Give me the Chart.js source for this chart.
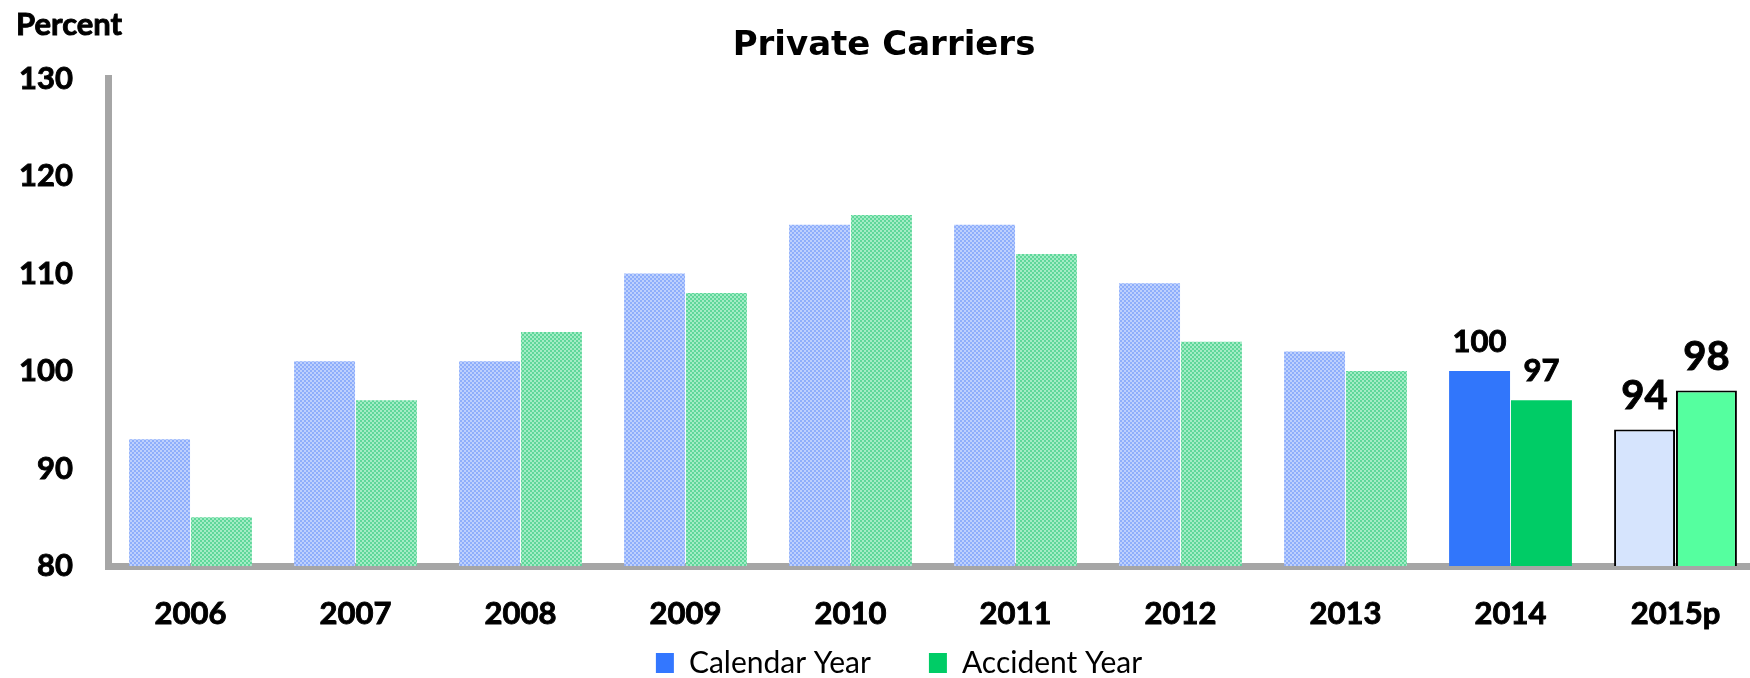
<!DOCTYPE html>
<html>
<head>
<meta charset="utf-8">
<title>Private Carriers</title>
<script src="https://cdn.jsdelivr.net/npm/chart.js@4.4.1/dist/chart.umd.min.js"></script>
<style>
  html, body { margin: 0; padding: 0; background: #fff; overflow: hidden; }
  #wrap { position: absolute; left: 0; top: 0; }
</style>
</head>
<body>
<div id="wrap"><canvas id="ratioChart" width="1758" height="759"></canvas></div>
<script>
// ---- data ----
const years = ['2006', '2007', '2008', '2009', '2010', '2011', '2012', '2013', '2014', '2015p'];
const calendarYear = [93, 101, 101, 110, 115, 115, 109, 102, 100, 94];
const accidentYear = [85, 97, 104, 108, 116, 112, 103, 100, 97, 98];
const seriesNames = ['Calendar Year', 'Accident Year'];
const yMin = 80, yMax = 130, yStep = 10;
const labeledYears = ['2014', '2015p'];

// ---- styling ----
const AXIS_GRAY = '#a6a6a6';
const HEAVY = 'bold';
const STROKE = 0.9;   // a hairline stroke makes the bold labels read heavier
const legendColors = ['#3377ff', '#00cc66'];
const solidColors = ['#3176fb', '#00cc66'];       // 2014
const preliminaryColors = ['#d6e4fd', '#55ff9f'];  // 2015p
const labelStyle = { '2014': { size: 31, gap: 19 }, '2015p': { size: 40, gap: 21 } };

Chart.defaults.font.family = "'Lato', sans-serif";
Chart.defaults.color = '#000';

// dithered fill used for the earlier years
function makeDither(a, b) {
  const tile = document.createElement('canvas');
  tile.width = 4; tile.height = 4;
  const t = tile.getContext('2d');
  t.fillStyle = a; t.fillRect(0, 0, 4, 4);
  t.fillStyle = b; t.fillRect(2, 0, 2, 2); t.fillRect(0, 2, 2, 2);
  return t.createPattern(tile, 'repeat');
}
const ditherBlue = makeDither('#8eaefb', '#bdd0fd');
const ditherGreen = makeDither('#5ed79a', '#a3ecc5');

function barFills(dither, k) {
  return years.map(y => y === '2014' ? solidColors[k] : y === '2015p' ? preliminaryColors[k] : dither);
}
const borderWidths = years.map(y => y === '2015p' ? 2 : 0);

function heavyText(ctx, text, x, y) {
  ctx.fillText(text, x, y);
  ctx.lineWidth = STROKE;
  ctx.strokeText(text, x, y);
}

// values printed above the most recent bars
const valueLabels = {
  id: 'valueLabels',
  afterDatasetsDraw(chart) {
    const ctx = chart.ctx;
    ctx.save();
    ctx.fillStyle = '#000';
    ctx.strokeStyle = '#000';
    ctx.textAlign = 'center';
    ctx.textBaseline = 'alphabetic';
    chart.data.datasets.forEach((ds, i) => {
      const meta = chart.getDatasetMeta(i);
      labeledYears.forEach(y => {
        const j = years.indexOf(y);
        const bar = meta.data[j];
        const st = labelStyle[y];
        ctx.font = `${HEAVY} ${st.size}px Lato`;
        heavyText(ctx, String(ds.data[j]), bar.x, bar.y - st.gap);
      });
    });
    ctx.restore();
  }
};

// unit caption over the value axis
const unitCaption = {
  id: 'unitCaption',
  afterDraw(chart) {
    const ctx = chart.ctx;
    ctx.save();
    ctx.font = `${HEAVY} 31px Lato`;
    ctx.fillStyle = '#000';
    ctx.strokeStyle = '#000';
    ctx.textAlign = 'left';
    ctx.textBaseline = 'alphabetic';
    heavyText(ctx, 'Percent', 16, 35);
    ctx.restore();
  }
};

// pull the legend up under the year labels and centre it on the plot block
const legendPlacement = {
  id: 'legendPlacement',
  afterLayout(chart) {
    const lg = chart.legend;
    const h = lg.bottom - lg.top;
    lg.top = chart.chartArea.bottom + 24;
    lg.bottom = lg.top + h;
    lg.left += 15;
    lg.right += 15;
  }
};

new Chart(document.getElementById('ratioChart').getContext('2d'), {
  type: 'bar',
  data: {
    labels: years,
    datasets: [
      {
        label: seriesNames[0],
        data: calendarYear,
        backgroundColor: barFills(ditherBlue, 0),
        borderColor: '#000',
        borderWidth: borderWidths,
        categoryPercentage: 0.75,
        barPercentage: 0.985
      },
      {
        label: seriesNames[1],
        data: accidentYear,
        backgroundColor: barFills(ditherGreen, 1),
        borderColor: '#000',
        borderWidth: borderWidths,
        categoryPercentage: 0.75,
        barPercentage: 0.985
      }
    ]
  },
  options: {
    responsive: false,
    animation: false,
    layout: { padding: { left: 10, right: 0, top: 0, bottom: 0 } },
    plugins: {
      title: {
        display: true,
        text: 'Private Carriers',
        color: '#000',
        font: { family: "'DejaVu Sans'", weight: 'bold', size: 34, lineHeight: 1.2 },
        padding: { top: 26.1, bottom: 11.6 }
      },
      legend: {
        position: 'bottom',
        labels: {
          boxWidth: 18,
          boxHeight: 20,
          padding: 58,
          color: '#000',
          font: { size: 30 },
          generateLabels: chart => chart.data.datasets.map((ds, i) => ({
            text: ds.label,
            fillStyle: legendColors[i],
            strokeStyle: legendColors[i],
            lineWidth: 0,
            hidden: false,
            datasetIndex: i,
            fontColor: '#000'
          }))
        }
      },
      tooltip: { enabled: false }
    },
    scales: {
      x: {
        z: 1,
        grid: { display: false, drawTicks: false },
        border: { display: true, color: AXIS_GRAY, width: 7 },
        ticks: {
          padding: 32,
          textStrokeColor: '#000',
          textStrokeWidth: STROKE,
          font: { size: 31, weight: HEAVY, lineHeight: 1 }
        }
      },
      y: {
        min: yMin,
        max: yMax,
        grid: { display: false, drawTicks: false },
        border: { display: true, color: AXIS_GRAY, width: 7 },
        ticks: {
          stepSize: yStep,
          padding: 35,
          textStrokeColor: '#000',
          textStrokeWidth: STROKE,
          font: { size: 31, weight: HEAVY, lineHeight: 1 }
        },
        afterFit: scale => { scale.width = 98; }
      }
    }
  },
  plugins: [valueLabels, unitCaption, legendPlacement]
});
</script>
</body>
</html>
